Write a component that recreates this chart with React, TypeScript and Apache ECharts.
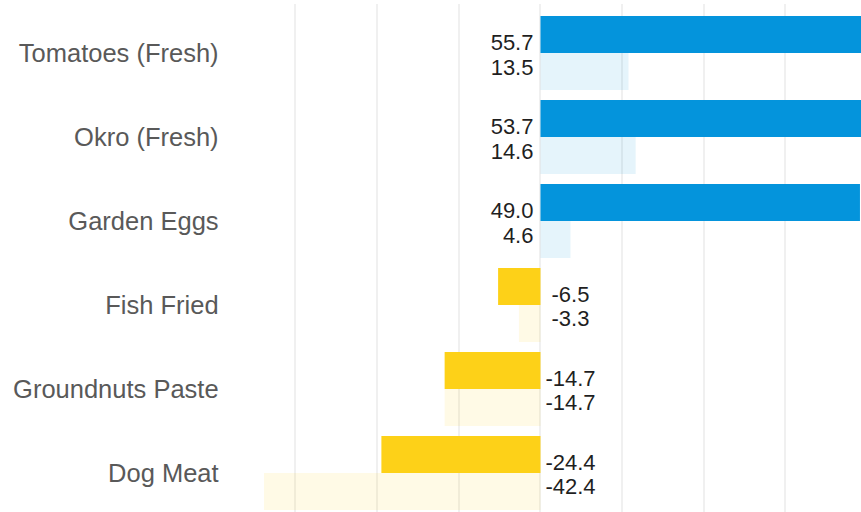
import React, { useEffect, useRef } from "react";
import * as echarts from "echarts";

const categories = [
  "Tomatoes (Fresh)",
  "Okro (Fresh)",
  "Garden Eggs",
  "Fish Fried",
  "Groundnuts Paste",
  "Dog Meat",
];
const currentValues = [55.7, 53.7, 49.0, -6.5, -14.7, -24.4];
const previousValues = [13.5, 14.6, 4.6, -3.3, -14.7, -42.4];

const FONT = "'Liberation Sans', Arial, Helvetica, sans-serif";
const BLUE = "#0494dc";
const YELLOW = "#fdd118";
const BLUE_LIGHT = "rgba(4,148,220,0.10)";
const YELLOW_LIGHT = "rgba(253,209,24,0.11)";

function makeItems(values: number[], dark: boolean) {
  return values.map((v) => {
    const pos = v >= 0;
    return {
      value: v,
      itemStyle: {
        color: pos ? (dark ? BLUE : BLUE_LIGHT) : dark ? YELLOW : YELLOW_LIGHT,
      },
      label: pos
        ? { position: "left", distance: 7, align: "right", offset: [0, dark ? 8 : -4] }
        : { position: "right", distance: 30, align: "center", offset: [0, dark ? 8 : -5] },
    };
  });
}

export default function App() {
  const ref = useRef<HTMLDivElement>(null);
  useEffect(() => {
    if (!ref.current) return;
    const chart = echarts.init(ref.current, undefined, { renderer: "svg" });
    const labelCommon = {
      show: true,
      fontSize: 22,
      fontFamily: FONT,
      color: "#1f1f1f",
      formatter: (p: any) => Number(p.value).toFixed(1),
    };
    chart.setOption({
      animation: false,
      backgroundColor: "#ffffff",
      grid: [
        { left: 253.6, top: 11, width: 652, height: 504, containLabel: false, outerBoundsMode: "none" },
        { left: 213.3, top: 4, width: 735, height: 512, containLabel: false, outerBoundsMode: "none" },
      ],
      xAxis: [
        {
          type: "value",
          gridIndex: 0,
          min: -44,
          max: 56,
          axisLine: { show: false },
          axisTick: { show: false },
          axisLabel: { show: false },
          splitLine: { show: false },
        },
        {
          type: "value",
          gridIndex: 1,
          min: -4,
          max: 5,
          interval: 1,
          axisLine: { show: false },
          axisTick: { show: false },
          axisLabel: { show: false },
          splitLine: {
            show: true,
            showMinLine: false,
            showMaxLine: false,
            lineStyle: { color: "#ebebeb", width: 1.5 },
          },
        },
      ],
      yAxis: [
        {
          type: "category",
          gridIndex: 0,
          inverse: true,
          data: categories,
          axisLine: { show: false },
          axisTick: { show: false },
          splitLine: { show: false },
          axisLabel: {
            fontSize: 25.5,
            fontFamily: FONT,
            color: "#595959",
            margin: 35,
          },
        },
        {
          type: "value",
          gridIndex: 1,
          min: 0,
          max: 1,
          show: false,
        },
      ],
      series: [
        {
          name: "Current",
          type: "bar",
          xAxisIndex: 0,
          yAxisIndex: 0,
          barWidth: 37,
          barGap: "0%",
          data: makeItems(currentValues, true),
          label: labelCommon,
        },
        {
          name: "Previous",
          type: "bar",
          xAxisIndex: 0,
          yAxisIndex: 0,
          barWidth: 37,
          barGap: "0%",
          data: makeItems(previousValues, false),
          label: labelCommon,
        },
      ],
    });
    return () => chart.dispose();
  }, []);
  return (
    <div
      ref={ref}
      style={{ position: "fixed", left: 0, top: 0, width: 861, height: 512 }}
    />
  );
}
